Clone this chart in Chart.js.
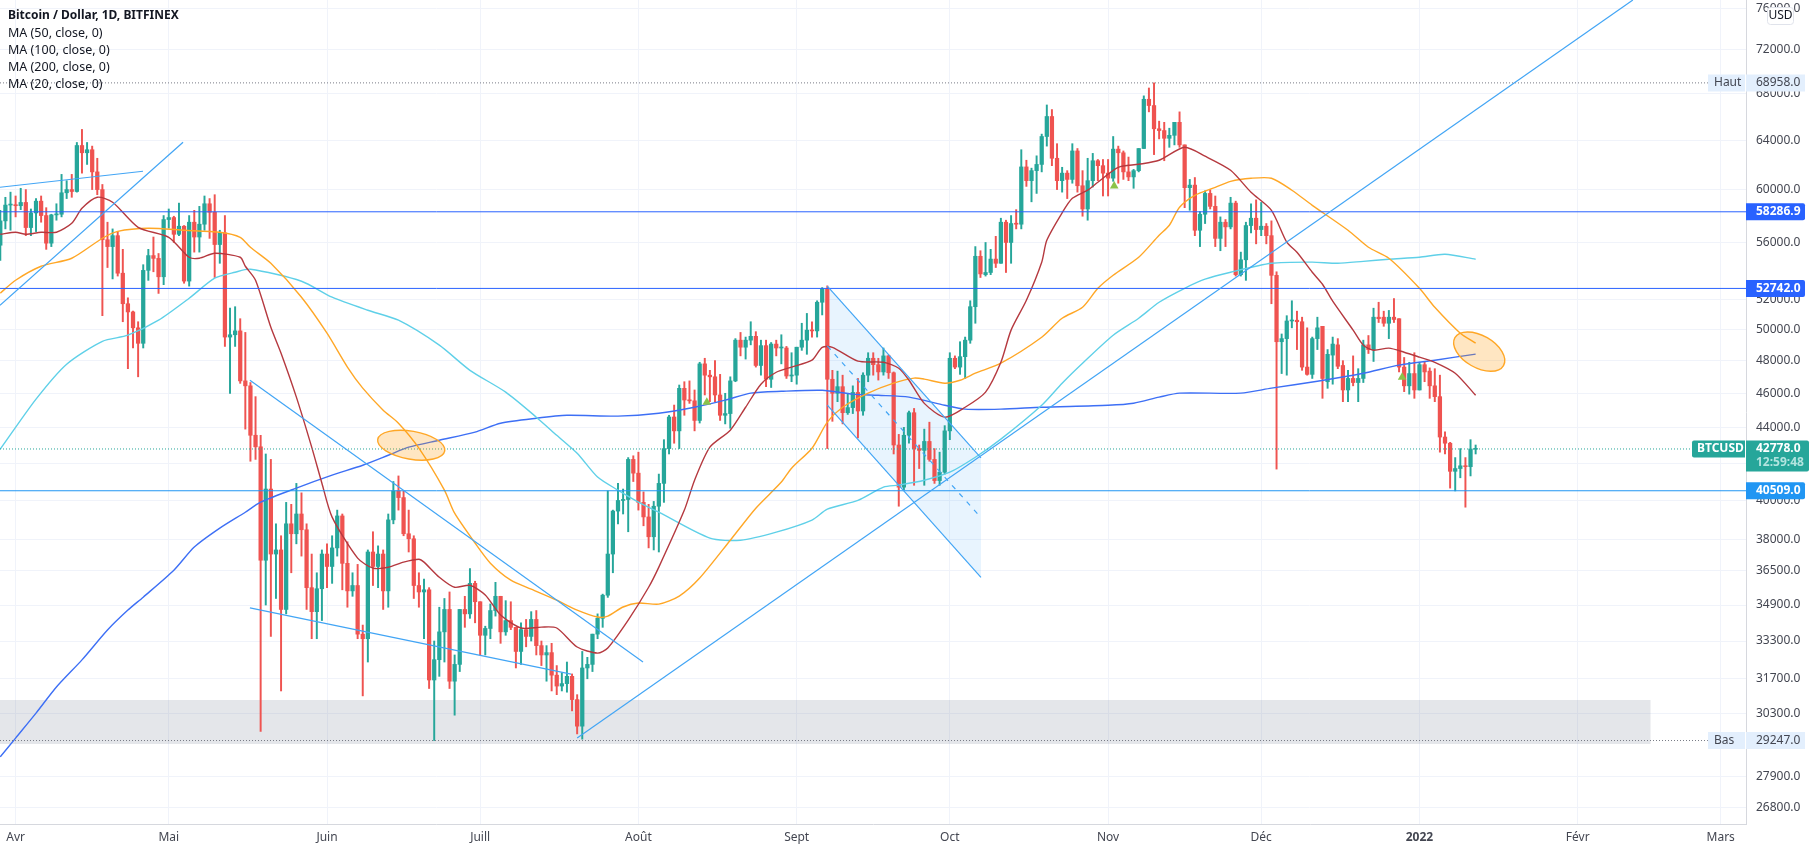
<!DOCTYPE html>
<html>
<head>
<meta charset="utf-8">
<title>Bitcoin / Dollar, 1D, BITFINEX</title>
<script src="https://cdn.jsdelivr.net/npm/chart.js@4/dist/chart.umd.min.js"></script>
<style>
  html, body { margin: 0; padding: 0; background: #fff; }
  canvas { display: block; }
</style>
</head>
<body>
<canvas id="btc" width="1814" height="852"></canvas>
<script>
// days are counted from 1 April 2021, first candle is 29 March
const firstCandleDay = -3;

const openPrices = [
  55800, 57600, 58800,
  58800, 58750, 59000, 57100, 58200, 59100, 58000, 55950, 58050, 58100, 59750, 60000, 59850, 63550, 62950, 63200, 61400, 60000, 56200, 55700, 56500, 53800, 51700, 51150, 50100, 49100, 54000, 55050, 54850, 53550,
  57700, 57850, 56600, 57200, 53250, 57500, 56400, 57350, 58900, 58250, 55850, 56700, 49500, 49650, 49900, 46750, 46450, 43550, 42900, 37000, 40600, 37300, 37500, 34700, 38800, 38300, 39300, 38500, 35700, 34600, 35650,
  37300, 36700, 37600, 39200, 36850, 35550, 35800, 33600, 33400, 37400, 36700, 37300, 35550, 39000, 40500, 40150, 38300, 38050, 35800, 35500, 35600, 31650, 32500, 33700, 34700, 31600, 32300, 34700, 34500, 35900,
  35050, 33550, 33850, 34650, 35300, 33700, 34200, 33900, 32850, 33800, 33500, 34250, 33100, 32700, 32800, 31850, 31400, 31500, 31800, 30850, 29800, 32150, 32300, 33600, 34300, 35350, 37300, 39450, 40000, 40050, 42200,
  41450, 39900, 39150, 38150, 39700, 40900, 42800, 44600, 43800, 46300, 45600, 45550, 44400, 47800, 47100, 47000, 45900, 44700, 44800, 46750, 49300, 48850, 49300, 49550, 47700, 48950, 46850, 49050, 48800, 48800, 47050,
  47100, 48850, 49300, 49950, 49900, 51800, 52700, 46850, 46000, 46400, 44850, 45150, 46050, 44950, 47100, 48150, 47750, 47300, 48300, 47250, 43000, 40700, 43550, 44850, 42800, 42700, 43200, 42200, 41050, 41500,
  43800, 48150, 47600, 48250, 49300, 51500, 55000, 53700, 53850, 54800, 54500, 57500, 56000, 57400, 57350, 61800, 60700, 61500, 62000, 64300, 66000, 62500, 60700, 61300, 60800, 63100, 60300, 58500, 60700, 62300, 61900,
  61300, 60900, 63250, 62950, 61400, 61000, 61500, 63300, 67500, 66950, 64950, 64800, 64150, 64400, 65500, 63600, 60150, 60350, 56900, 58100, 59700, 58700, 56300, 57500, 57150, 58950, 53700, 54750, 57250, 57800,
  56950, 57200, 56500, 53650, 49200, 49400, 50550, 50600, 50500, 47600, 47150, 49400, 50200, 46700, 48350, 49000, 47700, 46200, 46900, 46650, 46900, 49000, 48700, 50800, 50800, 50400, 50800, 50700, 47600, 46450, 47200,
  46200, 47750, 47350, 46450, 45800, 43450, 43100, 41550, 41700, 41850, 41800, 42760,
];
const highPrices = [
  58400, 59400, 59800,
  59500, 60100, 60000, 58500, 59300, 59500, 58600, 58100, 58900, 61200, 60700, 61200, 63800, 64895, 63800, 63500, 62500, 60400, 57500, 57000, 56800, 55500, 52100, 51200, 50500, 54400, 55500, 56400, 55200, 58000,
  58500, 57950, 58950, 57250, 58000, 58400, 58700, 59500, 59300, 59600, 56900, 58000, 51400, 51500, 50700, 49800, 46650, 45800, 43550, 42500, 42200, 38800, 38200, 39900, 39800, 40900, 40400, 38800, 37300, 36400, 37500,
  37800, 38200, 39500, 39300, 37900, 36400, 36800, 34000, 37500, 38400, 37700, 37500, 39300, 41000, 41300, 40500, 39500, 38200, 36400, 36100, 35700, 33300, 34800, 35200, 35500, 32700, 34700, 35300, 36600, 36000,
  35050, 33950, 34950, 35950, 35300, 35100, 35050, 33900, 34100, 34250, 34600, 34650, 33300, 33100, 33200, 32250, 31950, 32400, 31900, 31050, 32850, 32600, 33600, 34500, 35400, 40500, 39500, 40900, 40600, 42300, 42400,
  42600, 40450, 39800, 39950, 41400, 43300, 44700, 45300, 46500, 46700, 46750, 46200, 47900, 48150, 47400, 48000, 47150, 46000, 47000, 49400, 49800, 49500, 50500, 49850, 49300, 49300, 49150, 49300, 49650, 48900, 48500,
  48850, 50400, 51050, 50500, 51900, 52800, 52920, 47400, 47350, 47100, 45950, 46450, 46900, 47250, 48500, 48500, 48150, 48800, 48350, 47300, 43600, 44000, 44950, 45100, 43000, 43900, 44300, 42800, 42600, 44100,
  48500, 48300, 49200, 49500, 51900, 55700, 55400, 56000, 55500, 56450, 57800, 57650, 58000, 58450, 63200, 62340, 61700, 62700, 64500, 67000, 66600, 63700, 61770, 61500, 63700, 63300, 61500, 62500, 62900, 62400, 62400,
  62400, 64300, 63500, 63100, 62600, 61600, 63300, 67800, 68500, 68958, 65600, 65500, 65000, 65500, 66400, 63600, 60800, 60950, 58300, 59900, 60000, 59500, 57900, 57700, 59400, 59100, 55300, 57500, 58900, 59200,
  59000, 57400, 57600, 53900, 49700, 50900, 51900, 51200, 50800, 50100, 49500, 50800, 50200, 48700, 49500, 49400, 48000, 47400, 48300, 47500, 49300, 49600, 51400, 51800, 51200, 51250, 52050, 50700, 48200, 47900, 48500,
  47900, 47950, 47550, 47500, 47100, 43750, 43150, 42300, 42800, 42300, 43300, 43000,
];
const lowPrices = [
  54700, 57000, 56900,
  57900, 58450, 56500, 56500, 56800, 57500, 55500, 55700, 57650, 57900, 59300, 59400, 59800, 61300, 62000, 60000, 59600, 50900, 54200, 53400, 53600, 50500, 47500, 48800, 47000, 48800, 53300, 53900, 52400, 53000,
  57050, 56000, 56500, 53100, 52900, 55300, 55300, 56900, 56300, 53500, 54500, 48900, 46000, 48900, 46600, 43900, 42100, 42200, 29600, 34900, 33500, 35200, 31200, 34500, 36400, 37800, 37200, 34700, 33400, 33400, 34200,
  35700, 35900, 37200, 35600, 34800, 35300, 33400, 31000, 32400, 35800, 35700, 34700, 34800, 38800, 39500, 38200, 37400, 35200, 34800, 33400, 31300, 29247, 31800, 32400, 31300, 30230, 32000, 33900, 34300, 34100,
  32700, 32700, 33400, 34400, 33200, 33550, 33800, 32150, 32300, 33050, 33300, 32700, 32250, 31600, 31200, 31050, 31200, 31150, 30400, 29500, 29300, 31700, 32000, 33400, 33900, 35250, 36400, 38800, 39300, 38400, 41000,
  39500, 38700, 37600, 37500, 37400, 39900, 42500, 43100, 42800, 44700, 45400, 43800, 44250, 45900, 45500, 45500, 44400, 44200, 43950, 46700, 48300, 48100, 49000, 47600, 47100, 46400, 46350, 48300, 47800, 46900, 46700,
  46550, 48650, 48400, 49500, 49500, 50950, 42800, 44350, 45500, 44200, 44750, 44800, 43400, 44700, 46700, 47100, 46800, 47100, 46900, 42500, 39700, 40550, 43100, 40800, 41700, 40800, 42100, 40900, 40800, 41400,
  43300, 47500, 47150, 46900, 49100, 50400, 53500, 53600, 53700, 54200, 54500, 53850, 54500, 57000, 57000, 60250, 59050, 59700, 61400, 63500, 61900, 60000, 59800, 59300, 60500, 59800, 57950, 57650, 60200, 60700, 59500,
  59500, 60650, 60500, 60800, 60700, 60100, 61400, 63300, 66400, 62800, 64100, 62300, 63400, 63600, 63400, 58600, 58400, 56500, 55700, 57400, 58500, 55700, 55400, 55700, 57000, 53600, 53600, 53300, 56700, 55900,
  56500, 55900, 51700, 41670, 47200, 47100, 50100, 48700, 47400, 47100, 46900, 48700, 45700, 46300, 46550, 47500, 45500, 45500, 46450, 45500, 46650, 48450, 47950, 50450, 50200, 49400, 50450, 47300, 46100, 45950, 45700,
  46200, 46700, 45700, 45500, 42600, 42500, 40650, 40500, 41200, 39650, 41300, 42500,
];
const closePrices = [
  57600, 58800, 58800,
  58750, 59000, 57100, 58200, 59100, 58000, 55950, 58050, 58100, 59750, 60000, 59850, 63550, 62950, 63200, 61400, 60000, 56200, 55700, 56500, 53800, 51700, 51150, 50100, 49100, 54000, 55050, 54850, 53550, 57700,
  57850, 56600, 57200, 53250, 57500, 56400, 57350, 58900, 58250, 55850, 56700, 49500, 49650, 49900, 46750, 46450, 43550, 42900, 37000, 40600, 37300, 37500, 34700, 38800, 38300, 39300, 38500, 35700, 34600, 35650, 37300,
  36700, 37600, 39200, 36850, 35550, 35800, 33600, 33400, 37400, 36700, 37300, 35550, 39000, 40500, 40150, 38300, 38050, 35800, 35500, 35600, 31650, 32500, 33700, 34700, 31600, 32300, 34700, 34500, 35900, 35050,
  33550, 33850, 34650, 35300, 33700, 34200, 33900, 32850, 33800, 33500, 34250, 33100, 32700, 32800, 31850, 31400, 31500, 31800, 30850, 29800, 32150, 32300, 33600, 34300, 35350, 37300, 39450, 40000, 40050, 42200, 41450,
  39900, 39150, 38150, 39700, 40900, 42800, 44600, 43800, 46300, 45600, 45550, 44400, 47800, 47100, 47000, 45900, 44700, 44800, 46750, 49300, 48850, 49300, 49550, 47700, 48950, 46850, 49050, 48800, 48800, 47050, 47100,
  48850, 49300, 49950, 49900, 51800, 52700, 46850, 46000, 46400, 44850, 45150, 46050, 44950, 47100, 48150, 47750, 47300, 48300, 47250, 43000, 40700, 43550, 44850, 42800, 42700, 43200, 42200, 41050, 41500, 43800,
  48150, 47600, 48250, 49300, 51500, 55000, 53750, 53850, 54800, 54500, 57500, 56000, 57400, 57350, 61800, 60700, 61500, 62000, 64300, 66000, 62500, 60700, 61300, 60800, 63100, 60300, 58500, 60700, 62300, 61900, 61300,
  60900, 63250, 62950, 61400, 61000, 61500, 63300, 67500, 66950, 64950, 64800, 64150, 64400, 65500, 63600, 60150, 60350, 56900, 58100, 59700, 58700, 56300, 57500, 57150, 58950, 53700, 54750, 57250, 57800, 56950,
  57200, 56500, 53650, 49200, 49400, 50550, 50600, 50500, 47600, 47150, 49400, 50100, 46900, 48400, 49050, 47650, 46200, 46900, 46650, 46900, 49000, 48700, 50800, 50700, 50400, 50800, 50650, 47600, 46450, 47200, 46200,
  47750, 47300, 46450, 45800, 43450, 43100, 41550, 41700, 41850, 41800, 42778, 42778,
];

const ma20Days = [-3, 0, 2, 5, 8, 11, 13, 16, 19, 24, 30, 34, 36, 39, 44, 45, 47, 50, 52, 55, 58, 60, 62, 67, 70, 73, 76, 79, 80, 83, 86, 89, 92, 95, 99, 103, 106, 110, 114, 116, 120, 124, 126, 131, 133, 136, 140, 143, 146, 149, 152, 156, 158, 160, 165, 170, 173, 175, 178, 182, 186, 190, 193, 195, 198, 201, 202, 205, 207, 210, 212, 216, 220, 224, 229, 233, 238, 242, 246, 249, 251, 254, 256, 258, 262, 264, 266, 269, 272, 275, 278, 282, 286];
const ma20Values = [56600, 56750, 56600, 56750, 56750, 57420, 58550, 59400, 59020, 57120, 56380, 54930, 54860, 55220, 54930, 54290, 53310, 50140, 48470, 45770, 42880, 40910, 39140, 37100, 36620, 36660, 36910, 37050, 36910, 36190, 35720, 35810, 35360, 34450, 33870, 33910, 33870, 33040, 32780, 33000, 34220, 35720, 36670, 39500, 41070, 42880, 43840, 45170, 46550, 47280, 47600, 48030, 48840, 48840, 47970, 47900, 47530, 46790, 45400, 44590, 45170, 46070, 47900, 49950, 51930, 54580, 56160, 58210, 59320, 59950, 60580, 61770, 62010, 62340, 63400, 62670, 61530, 59790, 58400, 56020, 55290, 53870, 53030, 51870, 49950, 48980, 48660, 48790, 48530, 48220, 47900, 47220, 45880];

const ma50Days = [-3, 0, 5, 11, 17, 20, 26, 33, 40, 44, 46, 50, 56, 61, 65, 68, 72, 75, 79, 84, 86, 90, 93, 97, 101, 106, 110, 114, 116, 119, 122, 126, 130, 134, 140, 145, 150, 152, 156, 159, 162, 167, 172, 176, 178, 182, 185, 188, 193, 201, 205, 209, 212, 215, 220, 224, 226, 228, 231, 235, 238, 242, 246, 250, 254, 261, 265, 269, 275, 278, 283, 286];
const ma50Values = [52420, 53310, 54290, 54860, 56310, 56820, 57050, 56900, 56750, 56380, 55650, 54500, 52140, 49750, 47600, 46310, 45000, 44240, 42820, 40540, 39340, 37840, 36860, 36050, 35630, 35120, 34670, 34360, 34400, 34810, 34990, 34940, 35310, 36150, 37980, 39600, 40970, 41720, 42820, 44300, 45170, 46010, 46610, 46920, 46860, 46610, 46790, 47220, 47840, 49490, 50730, 51460, 52750, 53660, 54930, 56530, 57270, 58630, 59550, 60180, 60650, 60890, 60890, 59950, 58780, 56900, 55650, 54860, 52750, 51460, 49750, 49110];

const ma100Days = [-3, 4, 10, 17, 22, 28, 34, 39, 43, 46, 56, 62, 69, 75, 83, 89, 96, 102, 106, 110, 114, 118, 122, 126, 136, 142, 149, 156, 159, 165, 170, 173, 178, 183, 188, 193, 201, 205, 209, 215, 220, 224, 229, 233, 238, 246, 254, 259, 264, 269, 275, 280, 286];
const ma100Values = [42770, 45650, 47780, 49230, 49620, 50600, 52070, 53450, 53870, 54080, 53240, 52140, 51260, 50600, 48980, 47400, 46070, 44590, 43550, 42540, 41240, 40540, 39910, 39390, 38080, 37980, 38380, 38990, 39550, 40000, 40700, 40810, 41070, 41500, 42320, 43330, 45290, 46610, 47840, 49620, 50730, 51800, 52750, 53380, 53870, 54500, 54580, 54500, 54640, 54790, 54930, 55150, 54790];

const ma200Days = [-3, 0, 4, 8, 13, 18, 22, 25, 31, 35, 40, 45, 48, 55, 62, 68, 73, 77, 83, 90, 95, 102, 108, 118, 126, 133, 139, 144, 150, 158, 164, 169, 175, 182, 186, 193, 201, 214, 219, 224, 228, 240, 246, 255, 264, 271, 278, 286];
const ma200Values = [28630, 29340, 30310, 31360, 32490, 33780, 34670, 35260, 36520, 37640, 38580, 39390, 39910, 40650, 41340, 41880, 42430, 42880, 43270, 43730, 44240, 44530, 44700, 44650, 44820, 45170, 45590, 46010, 46120, 46180, 45950, 45880, 45770, 45290, 45060, 45060, 45170, 45290, 45410, 45770, 46010, 46010, 46310, 46730, 47220, 47720, 48030, 48410];

// axis
const priceTicks = [76000, 72000, 68000, 64000, 60000, 56000, 52000, 50000, 48000, 46000, 44000, 42000, 40000, 38000, 36500, 34900, 33300, 31700, 30300, 27900, 26800];
const monthDays = [0, 30, 61, 91, 122, 153, 183, 214, 244, 275, 306, 334];
const monthLabels = ["Avr", "Mai", "Juin", "Juill", "Août", "Sept", "Oct", "Nov", "Déc", "2022", "Févr", "Mars"];
const dayMin = -3.056;
const dayMax = 338.96;
const priceMin = 26230;
const priceMax = 76830;

// drawings
const supportLevel = 40509;
const resistanceLow = 52742;
const resistanceHigh = 58286.9;
const highLevel = 68958;
const lowLevel = 29247;
const lastPrice = 42778;
const bandTop = 30830;
const bandBottom = 29110;
const bandEndDay = 320.3;
const trendLines = [
  [[-3.06, 60180], [24.96, 61450]],
  [[-3.06, 51600], [32.8, 63820]],
  [[45.9, 46790], [122.9, 32400]],
  [[45.9, 34770], [108.8, 31890]],
  [[110, 29340], [316.8, 76830]],
];
const flagCorners = [[159, 52900], [189.1, 42280], [189.1, 36180], [159, 45290], [159, 52900]];
const flagMiddle = [[159, 48930], [188.5, 39290]];
const signalDays = [135.4, 215.2, 271.6];
const signalPrices = [45470, 60290, 46980];

const UP = "#26a69a";
const DOWN = "#ef5350";
const LINE_BLUE = "#42a5f5";
const LEVEL_BLUE = "#2962ff";
const FONT = '"Noto Sans", sans-serif';

const toPoints = (pairs) => pairs.map(([x, y]) => ({ x, y }));
const zipPoints = (days, values) => days.map((d, i) => ({ x: d, y: values[i] }));
const hLine = (price, from = dayMin, to = dayMax) => [{ x: from, y: price }, { x: to, y: price }];

function lineSet(data, color, width, order, extra = {}) {
  return {
    type: "line",
    data,
    borderColor: color,
    borderWidth: width,
    pointRadius: 0,
    fill: false,
    tension: 0,
    order,
    ...extra,
  };
}

const candleColors = closePrices.map((c, i) => (c >= openPrices[i] ? UP : DOWN));
const wicks = closePrices.map((_, i) => ({ x: firstCandleDay + i, y: [lowPrices[i], highPrices[i]] }));
const bodies = closePrices.map((c, i) => ({ x: firstCandleDay + i, y: [openPrices[i], c] }));

const datasets = [
  lineSet(hLine(bandTop, dayMin, bandEndDay), "rgba(0,0,0,0)", 0, 100, {
    fill: { value: bandBottom },
    backgroundColor: "rgba(120,128,150,0.2)",
  }),
  lineSet(toPoints(flagCorners), "rgba(0,0,0,0)", 0, 90, {
    fill: "shape",
    backgroundColor: "rgba(33,150,243,0.1)",
  }),
  { type: "bar", data: wicks, backgroundColor: candleColors, barThickness: 1.3, grouped: false, order: 50 },
  { type: "bar", data: bodies, backgroundColor: candleColors, barThickness: 3.6, minBarLength: 1, grouped: false, order: 40 },
  lineSet(zipPoints(ma200Days, ma200Values), "#3d6ff5", 1.4, 30, { tension: 0.25 }),
  lineSet(zipPoints(ma100Days, ma100Values), "#5fd0e8", 1.4, 29, { tension: 0.25 }),
  lineSet(zipPoints(ma50Days, ma50Values), "#ffa726", 1.4, 28, { tension: 0.25 }),
  lineSet(zipPoints(ma20Days, ma20Values), "#b5393f", 1.4, 27, { tension: 0.25 }),
  lineSet(hLine(highLevel, dayMin, 331.5), "#787b86", 1, 20, { borderDash: [1, 2] }),
  lineSet(hLine(lowLevel, dayMin, 331.5), "#787b86", 1, 20, { borderDash: [1, 2] }),
  lineSet(hLine(lastPrice, dayMin, 328.4), UP, 1, 20, { borderDash: [1, 2] }),
  lineSet(hLine(resistanceHigh), LEVEL_BLUE, 1, 15),
  lineSet(hLine(resistanceLow), LEVEL_BLUE, 1, 15),
  lineSet(hLine(supportLevel), "#2196f3", 1, 15),
  lineSet(toPoints([flagCorners[0], flagCorners[1]]), LINE_BLUE, 1.2, 14),
  lineSet(toPoints([flagCorners[3], flagCorners[2]]), LINE_BLUE, 1.2, 14),
  lineSet(toPoints(flagMiddle), LINE_BLUE, 1.2, 14, { borderDash: [5, 6] }),
  ...trendLines.map((t) => lineSet(toPoints(t), LINE_BLUE, 1.2, 13)),
  lineSet(zipPoints(signalDays, signalPrices), "#8bc34a", 0, 12, {
    showLine: false,
    pointStyle: "triangle",
    pointRadius: 5,
    pointBackgroundColor: "#8bc34a",
    pointBorderWidth: 0,
  }),
];

// highlighted zones, center in chart values
const ellipses = [
  { day: 77.5, price: 42990, rx: 34, ry: 14, rotation: 0.17 },
  { day: 286.7, price: 48570, rx: 28, ry: 16, rotation: 0.52 },
];

const zonesPlugin = {
  id: "zones",
  afterDatasetsDraw(chart) {
    const { ctx, scales } = chart;
    ctx.save();
    for (const e of ellipses) {
      ctx.beginPath();
      ctx.ellipse(scales.x.getPixelForValue(e.day), scales.y.getPixelForValue(e.price), e.rx, e.ry, e.rotation, 0, Math.PI * 2);
      ctx.fillStyle = "rgba(255,152,0,0.24)";
      ctx.fill();
      ctx.strokeStyle = "#ffa726";
      ctx.lineWidth = 1.4;
      ctx.stroke();
    }
    ctx.restore();
  },
};

function tag(ctx, x, y, w, h, bg, radius) {
  ctx.fillStyle = bg;
  ctx.beginPath();
  ctx.roundRect(x, y, w, h, radius);
  ctx.fill();
}

const overlayPlugin = {
  id: "overlay",
  afterDraw(chart) {
    const { ctx } = chart;
    const yAt = (p) => chart.scales.y.getPixelForValue(p);
    ctx.save();
    ctx.textBaseline = "middle";
    ctx.textAlign = "left";

    // legend top left
    ctx.fillStyle = "#131722";
    ctx.font = `bold 12px ${FONT}`;
    ctx.fillText("Bitcoin / Dollar, 1D, BITFINEX", 8, 16);
    ctx.font = `12.5px ${FONT}`;
    ["MA (50, close, 0)", "MA (100, close, 0)", "MA (200, close, 0)", "MA (20, close, 0)"].forEach((t, i) => {
      ctx.fillText(t, 8, 33.5 + i * 17);
    });

    // Haut / Bas
    for (const [name, price] of [["Haut", highLevel], ["Bas", lowLevel]]) {
      const y = yAt(price);
      tag(ctx, 1708, y - 8.5, 37, 17, "#e3effd", 0);
      tag(ctx, 1746, y - 8.5, 59, 17, "#e3effd", 0);
      ctx.fillStyle = "#434651";
      ctx.font = `12px ${FONT}`;
      ctx.fillText(name, 1714, y);
      ctx.fillText(price.toFixed(1), 1756, y);
    }

    // horizontal level tags
    for (const [price, color] of [[resistanceHigh, LEVEL_BLUE], [resistanceLow, LEVEL_BLUE], [supportLevel, "#2196f3"]]) {
      const y = yAt(price);
      tag(ctx, 1746, y - 8.5, 59, 17, color, [0, 2, 2, 0]);
      ctx.fillStyle = "#fff";
      ctx.font = `bold 12px ${FONT}`;
      ctx.fillText(price.toFixed(1), 1756, y);
    }

    // last price
    const ly = yAt(lastPrice);
    tag(ctx, 1692, ly - 8.5, 53, 17, UP, [2, 0, 0, 2]);
    tag(ctx, 1746, ly - 8.5, 63, 31, UP, [0, 2, 2, 0]);
    ctx.fillStyle = "#fff";
    ctx.font = `bold 12px ${FONT}`;
    ctx.fillText("BTCUSD", 1697, ly);
    ctx.fillText(lastPrice.toFixed(1), 1756, ly);
    ctx.fillStyle = "#b2e4df";
    ctx.fillText("12:59:48", 1756, ly + 14);

    // currency button
    ctx.fillStyle = "#fff";
    ctx.strokeStyle = "#e0e3eb";
    ctx.lineWidth = 1;
    ctx.beginPath();
    ctx.roundRect(1767.5, 7.5, 26, 17, 3);
    ctx.fill();
    ctx.stroke();
    ctx.fillStyle = "#131722";
    ctx.font = `12px ${FONT}`;
    ctx.textAlign = "center";
    ctx.fillText("USD", 1780.5, 16);
    ctx.restore();
  },
};

new Chart(document.getElementById("btc"), {
  type: "bar",
  data: { datasets },
  plugins: [zonesPlugin, overlayPlugin],
  options: {
    responsive: false,
    animation: false,
    events: [],
    layout: { padding: 0, autoPadding: false },
    plugins: { legend: { display: false }, tooltip: { enabled: false }, title: { display: false } },
    scales: {
      x: {
        type: "linear",
        min: dayMin,
        max: dayMax,
        offset: false,
        grid: { offset: false, color: "#f0f3fa", drawTicks: false },
        border: { color: "#d6d8de" },
        afterBuildTicks: (axis) => { axis.ticks = monthDays.map((value) => ({ value })); },
        afterFit: (axis) => { axis.height = 28; axis.paddingLeft = 0; axis.paddingRight = 0; },
        ticks: {
          autoSkip: false,
          maxRotation: 0,
          padding: 6,
          color: "#434651",
          font: (ctx) => ({ family: FONT, size: 12, weight: ctx.tick && ctx.tick.value === 275 ? "bold" : "normal" }),
          callback: (value) => monthLabels[monthDays.indexOf(value)],
        },
      },
      y: {
        type: "logarithmic",
        position: "right",
        min: priceMin,
        max: priceMax,
        grid: { color: "#f0f3fa", drawTicks: false },
        border: { color: "#d6d8de" },
        afterBuildTicks: (axis) => { axis.ticks = priceTicks.map((value) => ({ value })); },
        afterFit: (axis) => { axis.width = 68; axis.paddingTop = 0; axis.paddingBottom = 0; },
        ticks: {
          autoSkip: false,
          padding: 10,
          color: "#434651",
          font: { family: FONT, size: 12 },
          callback: (value) => value.toFixed(1),
        },
      },
    },
  },
});
</script>
</body>
</html>
